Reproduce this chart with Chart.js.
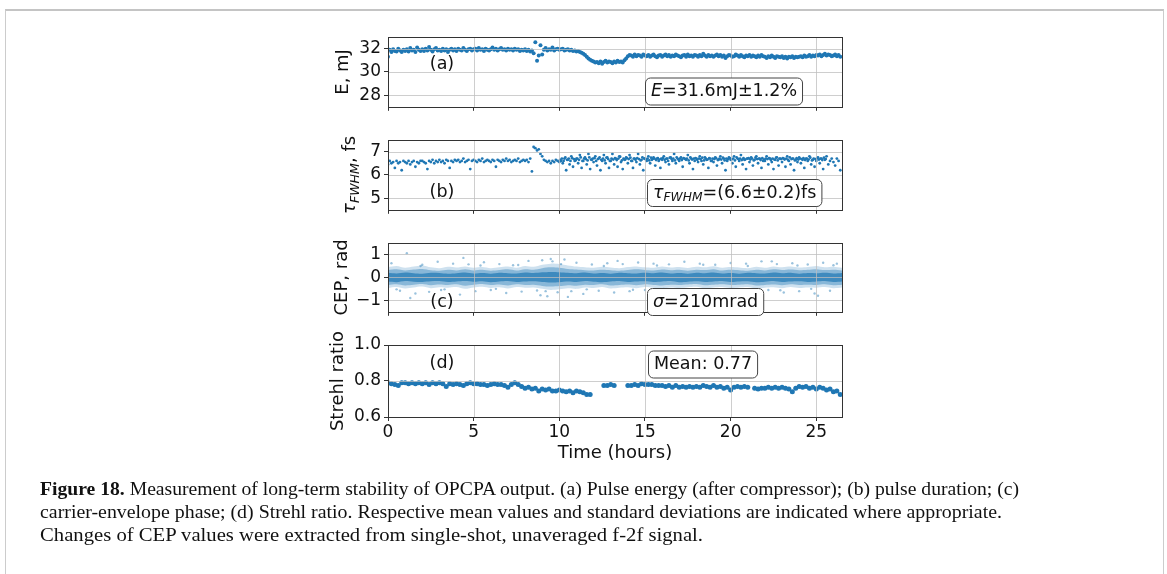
<!DOCTYPE html>
<html>
<head>
<meta charset="utf-8">
<script src="https://cdn.jsdelivr.net/npm/chart.js@4.4.0/dist/chart.umd.min.js"></script>
<style>
  html, body { margin: 0; padding: 0; background: #fff; }
  #page { position: relative; width: 1167px; height: 574px; overflow: hidden; background: #fff; }
  #frame { position: absolute; left: 5px; top: 9px; width: 1157px; height: 600px;
           border: 1px solid #cccccc; border-top: 2px solid #c4c4c4; }
  canvas.panel { position: absolute; left: 300px; }
  .cap { position: absolute; left: 40px; font-family: "Liberation Serif", serif; font-size: 19px;
         line-height: 23px; white-space: nowrap; transform-origin: 0 50%; color: #111; }
</style>
</head>
<body>
<div id="page">
  <div id="frame"></div>
  <canvas class="panel" id="panelA"></canvas>
  <canvas class="panel" id="panelB"></canvas>
  <canvas class="panel" id="panelC"></canvas>
  <canvas class="panel" id="panelD"></canvas>
  <div class="cap" style="top:477px" data-w="979"><b>Figure 18.</b> Measurement of long-term stability of OPCPA output. (a) Pulse energy (after compressor); (b) pulse duration; (c)</div>
  <div class="cap" style="top:500px" data-w="962">carrier-envelope phase; (d) Strehl ratio. Respective mean values and standard deviations are indicated where appropriate.</div>
  <div class="cap" style="top:523px" data-w="663">Changes of CEP values were extracted from single-shot, unaveraged f-2f signal.</div>
</div>
<script>
// time axis (hours)
const hourTicks = [0, 5, 10, 15, 20, 25];
const timeMax = 26.5;

// (a) pulse energy, mJ - one reading every 0.1 h
const energyStep = 0.1;
const energy = [
  31.3, 31.9, 31.7, 31.95, 31.8, 31.75, 32.0, 31.85, 31.7, 31.9,
  31.8, 31.95, 31.75, 32.05, 31.85, 31.9, 31.7, 32.1, 31.9, 31.8,
  31.95, 31.8, 32.0, 31.85, 32.15, 31.9, 31.75, 31.95, 32.05, 31.85,
  31.9, 31.8, 32.0, 31.85, 31.95, 31.7, 31.9, 32.0, 31.85, 31.95,
  31.8, 32.0, 31.9, 31.85, 32.05, 31.9, 31.8, 31.95, 32.0, 31.85,
  31.95, 32.0, 31.85, 32.05, 31.9, 31.95, 31.8, 32.0, 31.9, 31.85,
  31.95, 32.1, 31.9, 32.0, 31.85, 31.95, 32.05, 31.9, 31.95, 31.85,
  32.0, 31.9, 31.95, 31.85, 32.0, 31.9, 31.95, 31.8, 31.9, 31.85,
  31.95, 31.8, 31.9, 31.75, 31.85, 31.6, 32.55, 30.95, 31.4, 32.3,
  31.5, 31.9, 32.05, 31.85, 31.95, 31.9, 32.1, 31.85, 31.95, 32.0,
  31.9, 31.95, 32.0, 31.85, 31.9, 31.95, 31.85, 31.9, 31.8, 31.85,
  31.75, 31.8, 31.7, 31.65, 31.55, 31.45, 31.3, 31.15, 31.05, 30.95,
  30.9, 30.8, 30.85, 30.75, 30.9, 30.7, 30.85, 30.95, 30.8, 30.9,
  30.85, 30.75, 30.9, 30.8, 30.95, 30.85, 30.9, 30.8, 31.0, 31.15,
  31.35, 31.45, 31.4, 31.3, 31.5, 31.35, 31.45, 31.4, 31.3, 31.5,
  31.4, 31.35, 31.45, 31.3, 31.4, 31.5, 31.35, 31.25, 31.4, 31.45,
  31.3, 31.4, 31.5, 31.35, 31.45, 31.3, 31.4, 31.35, 31.5, 31.4,
  31.35, 31.25, 31.4, 31.45, 31.3, 31.5, 31.35, 31.4, 31.3, 31.45,
  31.4, 31.3, 31.45, 31.35, 31.55, 31.4, 31.3, 31.45, 31.35, 31.4,
  31.3, 31.4, 31.5, 31.35, 31.45, 31.3, 31.4, 31.2, 31.35, 31.45,
  31.4, 31.3, 31.35, 31.5, 31.4, 31.3, 31.45, 31.35, 31.25, 31.4,
  31.35, 31.45, 31.3, 31.4, 31.35, 31.25, 31.4, 31.3, 31.45, 31.35,
  31.3, 31.2, 31.35, 31.25, 31.4, 31.3, 31.2, 31.35, 31.3, 31.25,
  31.35, 31.2, 31.3, 31.15, 31.3, 31.25, 31.35, 31.2, 31.3, 31.25,
  31.3, 31.35, 31.25, 31.4, 31.3, 31.35, 31.45, 31.3, 31.4, 31.35,
  31.45, 31.4, 31.5, 31.35, 31.45, 31.55, 31.4, 31.5, 31.45, 31.35,
  31.4, 31.5, 31.35, 31.45, 31.3
];

// (b) pulse duration FWHM, fs - one reading every 0.1 h
const durationStep = 0.1;
const duration = [
  6.45, 6.6, 6.5, 6.55, 6.3, 6.6, 6.5, 6.55, 6.2, 6.6,
  6.55, 6.5, 6.6, 6.45, 6.55, 6.6, 6.35, 6.55, 6.5, 6.6,
  6.6, 6.55, 6.5, 6.25, 6.6, 6.55, 6.65, 6.5, 6.6, 6.55,
  6.65, 6.55, 6.6, 6.5, 6.65, 6.6, 6.3, 6.6, 6.55, 6.65,
  6.6, 6.65, 6.55, 6.6, 6.7, 6.55, 6.6, 6.65, 6.25, 6.6,
  6.65, 6.6, 6.55, 6.65, 6.6, 6.7, 6.55, 6.6, 6.65, 6.6,
  6.55, 6.65, 6.6, 6.35, 6.65, 6.6, 6.55, 6.65, 6.6, 6.7,
  6.6, 6.65, 6.55, 6.6, 6.65, 6.6, 6.7, 6.55, 6.6, 6.65,
  6.6, 6.65, 6.55, 6.7, 6.15, 7.2, 7.15, 7.05, 7.1, 6.9,
  6.8, 6.65, 6.6, 6.55, 6.6, 6.5, 6.6, 6.55, 6.65, 6.6,
  6.55, 6.6, 6.5, 6.7, 6.2, 6.65, 6.45, 6.8, 6.35, 6.6,
  6.7, 6.5, 6.85, 6.3, 6.6, 6.75, 6.45, 6.9, 6.25, 6.65,
  6.55, 6.8, 6.4, 6.7, 6.2, 6.6, 6.85, 6.5, 6.75, 6.3,
  6.6, 6.9, 6.45, 6.7, 6.35, 6.8, 6.55, 6.25, 6.65, 6.75,
  6.5, 6.85, 6.6, 6.3, 6.7, 6.55, 6.9, 6.45, 6.65, 6.2,
  6.7, 6.6, 6.8, 6.5, 6.65, 6.75, 6.4, 6.7, 6.6, 6.3,
  6.65, 6.8, 6.55, 6.7, 6.45, 6.75, 6.6, 6.9, 6.5, 6.7,
  6.6, 6.75, 6.35, 6.7, 6.65, 6.85, 6.5, 6.7, 6.25, 6.6,
  6.7, 6.55, 6.8, 6.6, 6.45, 6.75, 6.65, 6.3, 6.7, 6.6,
  6.55, 6.75, 6.4, 6.65, 6.8, 6.5, 6.7, 6.2, 6.6, 6.75,
  6.65, 6.5, 6.8, 6.35, 6.7, 6.6, 6.85, 6.45, 6.65, 6.25,
  6.7, 6.55, 6.75, 6.4, 6.65, 6.8, 6.5, 6.7, 6.3, 6.6,
  6.6, 6.8, 6.45, 6.7, 6.55, 6.25, 6.65, 6.75, 6.4, 6.7,
  6.55, 6.7, 6.35, 6.8, 6.6, 6.45, 6.7, 6.2, 6.65, 6.55,
  6.75, 6.5, 6.65, 6.3, 6.7, 6.6, 6.8, 6.45, 6.65, 6.35,
  6.6, 6.75, 6.5, 6.7, 6.25, 6.65, 6.8, 6.45, 6.6, 6.7,
  6.55, 6.4, 6.7, 6.6, 6.2
];
// second reading per slot after the 10 h mark (denser cloud there)
const durationLateStart = 10.05;
const durationLate = [
  6.65, 6.7, 6.6, 6.75, 6.65, 6.7, 6.6, 6.72, 6.68, 6.62,
  6.7, 6.65, 6.75, 6.6, 6.7, 6.68, 6.62, 6.75, 6.66, 6.7,
  6.72, 6.6, 6.68, 6.75, 6.65, 6.7, 6.62, 6.74, 6.68, 6.6,
  6.7, 6.66, 6.72, 6.64, 6.7, 6.78, 6.62, 6.7, 6.66, 6.72,
  6.68, 6.74, 6.6, 6.7, 6.65, 6.72, 6.68, 6.62, 6.75, 6.7,
  6.66, 6.7, 6.62, 6.74, 6.68, 6.7, 6.64, 6.72, 6.66, 6.7,
  6.72, 6.65, 6.7, 6.6, 6.74, 6.68, 6.7, 6.62, 6.75, 6.66,
  6.7, 6.64, 6.72, 6.68, 6.7, 6.62, 6.75, 6.66, 6.7, 6.72,
  6.65, 6.7, 6.68, 6.74, 6.62, 6.7, 6.66, 6.72, 6.6, 6.7,
  6.68, 6.72, 6.64, 6.7, 6.66, 6.74, 6.62, 6.7, 6.68, 6.72,
  6.66, 6.7, 6.62, 6.75, 6.68, 6.7, 6.64, 6.72, 6.66, 6.7,
  6.72, 6.66, 6.7, 6.62, 6.74, 6.68, 6.7, 6.64, 6.72, 6.66,
  6.7, 6.68, 6.72, 6.64, 6.7, 6.66, 6.74, 6.62, 6.7, 6.68,
  6.72, 6.66, 6.7, 6.64, 6.75, 6.68, 6.7, 6.62, 6.72, 6.66,
  6.7, 6.68, 6.72, 6.64, 6.7, 6.66, 6.74, 6.62, 6.7, 6.68,
  6.72, 6.66, 6.7, 6.64, 6.74, 6.68
];

// (c) CEP, rad - shot-density envelopes every 0.5 h plus stray shots
const cepStep = 0.5;
const cepCoreUpper = [
  0.2, 0.17, 0.21, 0.18, 0.16, 0.2, 0.19, 0.16, 0.18, 0.21,
  0.17, 0.19, 0.16, 0.2, 0.18, 0.17, 0.21, 0.19, 0.22, 0.24,
  0.23, 0.2, 0.18, 0.21, 0.17, 0.19, 0.16, 0.2, 0.18, 0.17,
  0.2, 0.18, 0.21, 0.17, 0.19, 0.16, 0.2, 0.18, 0.21, 0.17,
  0.19, 0.16, 0.2, 0.18, 0.17, 0.21, 0.18, 0.2, 0.16, 0.19,
  0.18, 0.2, 0.17, 0.19
];
const cepCoreLower = [
  -0.18, -0.21, -0.16, -0.19, -0.2, -0.17, -0.16, -0.2, -0.18, -0.16,
  -0.19, -0.17, -0.21, -0.18, -0.16, -0.2, -0.18, -0.17, -0.2, -0.22,
  -0.21, -0.18, -0.2, -0.16, -0.19, -0.21, -0.18, -0.16, -0.2, -0.18,
  -0.17, -0.2, -0.18, -0.16, -0.21, -0.19, -0.17, -0.2, -0.18, -0.16,
  -0.2, -0.18, -0.17, -0.21, -0.19, -0.16, -0.2, -0.18, -0.17, -0.2,
  -0.18, -0.16, -0.2, -0.18
];
const cepMidUpper = [
  0.32, 0.35, 0.3, 0.34, 0.37, 0.31, 0.29, 0.33, 0.3, 0.35,
  0.3, 0.33, 0.29, 0.32, 0.35, 0.3, 0.36, 0.33, 0.4, 0.44,
  0.42, 0.37, 0.34, 0.31, 0.3, 0.33, 0.31, 0.29, 0.32, 0.35,
  0.32, 0.3, 0.34, 0.31, 0.33, 0.29, 0.33, 0.32, 0.36, 0.3,
  0.33, 0.31, 0.29, 0.33, 0.3, 0.35, 0.32, 0.34, 0.31, 0.33,
  0.36, 0.32, 0.33, 0.3
];
const cepMidLower = [
  -0.33, -0.3, -0.35, -0.32, -0.29, -0.34, -0.31, -0.33, -0.3, -0.36,
  -0.32, -0.29, -0.33, -0.31, -0.35, -0.3, -0.33, -0.32, -0.37, -0.4,
  -0.38, -0.34, -0.36, -0.32, -0.33, -0.3, -0.35, -0.33, -0.31, -0.34,
  -0.3, -0.33, -0.35, -0.32, -0.33, -0.31, -0.29, -0.34, -0.32, -0.3,
  -0.33, -0.32, -0.3, -0.35, -0.33, -0.31, -0.34, -0.3, -0.33, -0.32,
  -0.33, -0.3, -0.34, -0.32
];
const cepHaloUpper = [
  0.45, 0.5, 0.42, 0.47, 0.52, 0.44, 0.4, 0.46, 0.43, 0.48,
  0.42, 0.45, 0.4, 0.44, 0.47, 0.42, 0.5, 0.46, 0.55, 0.6,
  0.58, 0.52, 0.47, 0.44, 0.42, 0.46, 0.43, 0.4, 0.45, 0.48,
  0.44, 0.42, 0.47, 0.43, 0.45, 0.41, 0.46, 0.44, 0.49, 0.42,
  0.45, 0.43, 0.4, 0.46, 0.42, 0.48, 0.44, 0.47, 0.43, 0.45,
  0.5, 0.44, 0.46, 0.42
];
const cepHaloLower = [
  -0.46, -0.42, -0.48, -0.44, -0.4, -0.47, -0.43, -0.45, -0.42, -0.5,
  -0.44, -0.41, -0.46, -0.43, -0.48, -0.42, -0.45, -0.44, -0.5, -0.55,
  -0.52, -0.47, -0.5, -0.44, -0.46, -0.42, -0.48, -0.45, -0.43, -0.47,
  -0.42, -0.45, -0.48, -0.44, -0.46, -0.43, -0.41, -0.47, -0.44, -0.42,
  -0.46, -0.44, -0.42, -0.48, -0.45, -0.43, -0.47, -0.42, -0.46, -0.44,
  -0.45, -0.42, -0.47, -0.44
];
const cepStrayTime = [
  0.2, 0.7, 1.1, 1.6, 2.0, 2.4, 2.9, 3.3, 3.8, 4.2,
  4.7, 5.1, 5.6, 6.0, 6.5, 6.9, 7.3, 7.8, 8.2, 8.7,
  9.0, 9.3, 9.6, 9.9, 10.3, 10.7, 11.0, 11.4, 11.9, 12.3,
  12.8, 13.2, 13.7, 14.1, 14.6, 15.0, 15.5, 15.9, 16.4, 16.8,
  17.3, 17.7, 18.2, 18.6, 19.1, 19.5, 20.0, 20.4, 20.9, 21.3,
  21.8, 22.2, 22.7, 23.1, 23.6, 24.0, 24.5, 24.9, 25.4, 25.8,
  26.2, 1.3, 4.4, 8.9, 9.5, 10.5, 13.4, 17.9, 22.4, 25.1,
  0.5, 1.9, 3.1, 5.4, 6.3, 7.6, 9.2, 10.1, 11.6, 12.6,
  14.3, 15.7, 16.1, 18.4, 19.7, 21.0, 22.9, 23.9, 24.7, 26.0
];
const cepStray = [
  0.62, -0.58, 1.05, -0.7, 0.55, -0.63, 0.68, -0.52, 0.6, -0.75,
  0.57, -0.6, 0.66, -0.55, 0.58, -0.68, 0.53, -0.62, 0.72, -0.57,
  0.75, -0.82, 0.7, -0.65, 0.78, -0.6, 0.64, -0.72, 0.56, -0.58,
  0.62, -0.66, 0.58, -0.6, 0.65, -0.55, 0.6, -0.7, 0.57, -0.62,
  0.68, -0.53, 0.6, -0.64, 0.55, -0.68, 0.63, -0.57, 0.6, -0.62,
  0.7, -0.55, 0.58, -0.66, 0.62, -0.6, 0.56, -0.7, 0.64, -0.58,
  0.6, -0.9, 0.85, -0.78, 0.8, -0.85, 0.72, -0.76, 0.7, -0.8,
  -0.52, 0.5, -0.55, 0.52, -0.5, 0.54, -0.6, 0.58, -0.52, 0.5,
  -0.54, 0.52, -0.5, 0.55, -0.53, 0.5, -0.56, 0.52, -0.5, 0.53
];

// (d) Strehl ratio - one reading every 0.2 h, null = no measurement
const strehlStep = 0.2;
const strehl = [
  0.79, 0.785, 0.78, 0.775, 0.79,
  0.79, 0.785, 0.79, 0.785, 0.79,
  0.785, 0.79, 0.78, 0.79, 0.785,
  0.79, 0.785, 0.77, 0.785, 0.78,
  0.785, 0.78, 0.775, 0.785, 0.79,
  0.785, 0.785, 0.78, 0.78, 0.775,
  0.78, 0.785, 0.78, 0.78, 0.775,
  0.765, 0.78, 0.79, 0.78, 0.77,
  0.76, 0.765, 0.755, 0.76, 0.745,
  0.755, 0.75, 0.755, 0.745, 0.745,
  0.75, 0.745, 0.74, 0.745, 0.735,
  0.745, 0.74, 0.735, 0.725, 0.725,
  null, null, null, 0.775, 0.775,
  0.78, 0.775, null, null, null,
  0.775, 0.775, 0.78, 0.775, 0.785,
  0.78, 0.78, 0.78, 0.775, 0.775,
  0.775, 0.77, 0.775, 0.765, 0.775,
  0.765, 0.77, 0.765, 0.77, 0.765,
  0.77, 0.765, 0.775, 0.77, 0.765,
  0.775, 0.765, 0.77, 0.76, 0.765,
  0.75, 0.765, 0.77, 0.765, 0.77,
  0.765, null, 0.76, 0.755, 0.76,
  0.76, 0.765, 0.76, 0.765, 0.76,
  0.765, 0.76, 0.755, 0.74, 0.76,
  0.77, 0.765, 0.77, 0.76, 0.765,
  0.755, 0.765, 0.76, 0.75, 0.755,
  0.74, 0.745, 0.725
];

const BLUE = '#1f77b4';
const FONT = 'DejaVu Sans';
const TICK_SIZE = 17, NOTE_SIZE = 17.5, TITLE_SIZE = 18;

function sampled(values, step, start = 0) {
  return values.map((v, i) => ({ x: +(start + i * step).toFixed(2), y: v }));
}
function paired(times, values) {
  return times.map((t, i) => ({ x: t, y: values[i] }));
}

// text helpers: a label is a list of runs, e.g. [{t:'E', it:true}, {t:'=31.6mJ'}]
function runFont(r, size) {
  const s = r.sub ? size * 0.7 : size;
  return (r.it ? 'italic ' : '') + s + 'px "' + FONT + '"';
}
function runsWidth(ctx, runs, size) {
  let w = 0;
  runs.forEach(r => { ctx.font = runFont(r, size); w += ctx.measureText(r.t).width; });
  return w;
}
function drawRuns(ctx, runs, x, y, size) {
  ctx.textBaseline = 'middle';
  ctx.textAlign = 'left';
  runs.forEach(r => {
    ctx.font = runFont(r, size);
    ctx.fillText(r.t, x, r.sub ? y + size * 0.3 : y);
    x += ctx.measureText(r.t).width;
  });
}
function roundBox(ctx, x, y, w, h, r) {
  ctx.beginPath();
  ctx.moveTo(x + r, y);
  ctx.arcTo(x + w, y, x + w, y + h, r);
  ctx.arcTo(x + w, y + h, x, y + h, r);
  ctx.arcTo(x, y + h, x, y, r);
  ctx.arcTo(x, y, x + w, y, r);
  ctx.closePath();
}

// grid over the data (as in the original), axes frame, annotations and titles
const decorPlugin = {
  id: 'decor',
  afterDatasetsDraw(chart) {
    const { ctx, chartArea: a, scales: { x, y } } = chart;
    ctx.save();
    ctx.strokeStyle = 'rgba(190,190,190,0.75)';
    ctx.lineWidth = 1;
    ctx.beginPath();
    x.ticks.forEach(t => {
      const px = Math.round(x.getPixelForValue(t.value)) + 0.5;
      ctx.moveTo(px, a.top); ctx.lineTo(px, a.bottom);
    });
    y.ticks.forEach(t => {
      const py = Math.round(y.getPixelForValue(t.value)) + 0.5;
      ctx.moveTo(a.left, py); ctx.lineTo(a.right, py);
    });
    ctx.stroke();
    ctx.strokeStyle = '#333';
    ctx.strokeRect(Math.round(a.left) + 0.5, Math.round(a.top) + 0.5,
                   Math.round(a.right - a.left), Math.round(a.bottom - a.top));
    ctx.restore();
  },
  afterDraw(chart) {
    const p = chart.options.plugins.decor;
    const { ctx, chartArea: a } = chart;
    ctx.save();
    ctx.fillStyle = '#111';
    // panel letter
    ctx.font = NOTE_SIZE + 'px "' + FONT + '"';
    ctx.textAlign = 'center';
    ctx.textBaseline = 'middle';
    ctx.fillText(p.letter, a.left + p.letterPos[0], a.top + p.letterPos[1]);
    // stats box
    const w = runsWidth(ctx, p.box, NOTE_SIZE) + 11;
    const bx = a.left + p.boxPos[0], by = a.top + p.boxPos[1] - 13.5;
    roundBox(ctx, bx + 0.5, by + 0.5, w, 27, 5);
    ctx.fillStyle = '#fff';
    ctx.fill();
    ctx.strokeStyle = '#444';
    ctx.lineWidth = 1;
    ctx.stroke();
    ctx.fillStyle = '#111';
    drawRuns(ctx, p.box, bx + 6, a.top + p.boxPos[1] + 0.5, NOTE_SIZE);
    // y axis title
    const tw = runsWidth(ctx, p.yTitle, TITLE_SIZE);
    ctx.translate(a.left + p.yTitleX, (a.top + a.bottom) / 2);
    ctx.rotate(-Math.PI / 2);
    drawRuns(ctx, p.yTitle, -tw / 2, 0, TITLE_SIZE);
    ctx.restore();
    if (p.xTitle) {
      ctx.save();
      ctx.fillStyle = '#111';
      ctx.font = TITLE_SIZE + 'px "' + FONT + '"';
      ctx.textAlign = 'center';
      ctx.textBaseline = 'middle';
      ctx.fillText(p.xTitle, (a.left + a.right) / 2, a.bottom + 36);
      ctx.restore();
    }
  }
};

const PAD_TOP = 14;
function makePanel(p) {
  const cv = document.getElementById(p.id);
  const xH = p.bottom ? 62 : 12;
  const H = PAD_TOP + p.height + xH;
  cv.width = 560; cv.height = H;
  cv.style.width = '560px'; cv.style.height = H + 'px';
  cv.style.top = (p.top - PAD_TOP) + 'px';
  const tickFont = { family: FONT, size: TICK_SIZE };
  const gridOpts = { drawOnChartArea: false, drawTicks: true, tickLength: 4, tickColor: '#333', tickWidth: 1 };
  new Chart(cv, {
    type: 'scatter',
    data: { datasets: p.datasets },
    options: {
      responsive: false,
      animation: false,
      events: [],
      layout: { padding: { top: PAD_TOP, right: 18, bottom: 0, left: 0 } },
      scales: {
        x: {
          type: 'linear', min: 0, max: timeMax,
          afterFit: s => { s.height = xH; },
          afterBuildTicks: s => { s.ticks = hourTicks.map(v => ({ value: v })); },
          ticks: { display: !!p.bottom, font: tickFont, color: '#111', padding: 1, maxRotation: 0, autoSkip: false,
                   callback: v => String(v) },
          grid: gridOpts,
          border: { display: false }
        },
        y: {
          min: p.yMin, max: p.yMax,
          afterFit: s => { s.width = 88; },
          afterBuildTicks: s => { s.ticks = p.yTicks.map(v => ({ value: v })); },
          ticks: { font: tickFont, color: '#111', padding: 3, callback: p.yFmt },
          grid: gridOpts,
          border: { display: false }
        }
      },
      plugins: {
        legend: { display: false },
        tooltip: { enabled: false },
        decor: p.decor
      }
    },
    plugins: [decorPlugin]
  });
}

function pts(data, r, color) {
  return { data, pointRadius: r, pointBorderWidth: 0, pointBackgroundColor: color, borderWidth: 0 };
}
function band(upper, lower, color) {
  return [
    { type: 'line', data: sampled(upper, cepStep), fill: '+1', backgroundColor: color,
      borderWidth: 0, pointRadius: 0, tension: 0.3 },
    { type: 'line', data: sampled(lower, cepStep), fill: false,
      borderWidth: 0, pointRadius: 0, tension: 0.3 }
  ];
}

makePanel({
  id: 'panelA', top: 37, height: 71, yMin: 27, yMax: 33, yTicks: [28, 30, 32],
  yFmt: v => String(v),
  datasets: [pts(sampled(energy, energyStep), 2.0, BLUE)],
  decor: { letter: '(a)', letterPos: [54, 27], boxPos: [257, 54],
           box: [{ t: 'E', it: true }, { t: '=31.6mJ±1.2%' }],
           yTitle: [{ t: 'E, mJ' }], yTitleX: -45 }
});
makePanel({
  id: 'panelB', top: 140, height: 71, yMin: 4.5, yMax: 7.5, yTicks: [5, 6, 7],
  yFmt: v => String(v),
  datasets: [
    pts(sampled(duration, durationStep), 1.4, BLUE),
    pts(sampled(durationLate, durationStep, durationLateStart), 1.4, BLUE)
  ],
  decor: { letter: '(b)', letterPos: [54, 52], boxPos: [259, 52.5],
           box: [{ t: 'τ', it: true }, { t: 'FWHM', it: true, sub: true }, { t: '=(6.6±0.2)fs' }],
           yTitle: [{ t: 'τ', it: true }, { t: 'FWHM', it: true, sub: true }, { t: ', fs' }], yTitleX: -38 }
});
makePanel({
  id: 'panelC', top: 243, height: 70, yMin: -1.5, yMax: 1.5, yTicks: [-1, 0, 1],
  yFmt: v => (v < 0 ? '\u2212' + Math.abs(v) : String(v)),
  datasets: [
    ...band(cepHaloUpper, cepHaloLower, 'rgba(31,119,180,0.22)'),
    ...band(cepMidUpper, cepMidLower, 'rgba(31,119,180,0.4)'),
    ...band(cepCoreUpper, cepCoreLower, 'rgba(31,119,180,0.7)'),
    pts(paired(cepStrayTime, cepStray), 1.2, 'rgba(31,119,180,0.45)')
  ],
  decor: { letter: '(c)', letterPos: [54, 59], boxPos: [259, 58.5],
           box: [{ t: 'σ', it: true }, { t: '=210mrad' }],
           yTitle: [{ t: 'CEP, rad' }], yTitleX: -46 }
});
makePanel({
  id: 'panelD', top: 345, height: 72, bottom: true, yMin: 0.6, yMax: 1.0, yTicks: [0.6, 0.8, 1.0],
  yFmt: v => v.toFixed(1),
  datasets: [pts(sampled(strehl, strehlStep), 2.5, BLUE)],
  decor: { letter: '(d)', letterPos: [54, 18], boxPos: [260, 19],
           box: [{ t: 'Mean: 0.77' }],
           yTitle: [{ t: 'Strehl ratio' }], yTitleX: -50, xTitle: 'Time (hours)' }
});

// caption: fit each serif line to the width it has in the figure
document.querySelectorAll('.cap').forEach(c => {
  const k = +c.dataset.w / c.getBoundingClientRect().width;
  c.style.transform = 'scaleX(' + k + ')';
});
</script>
</body>
</html>
